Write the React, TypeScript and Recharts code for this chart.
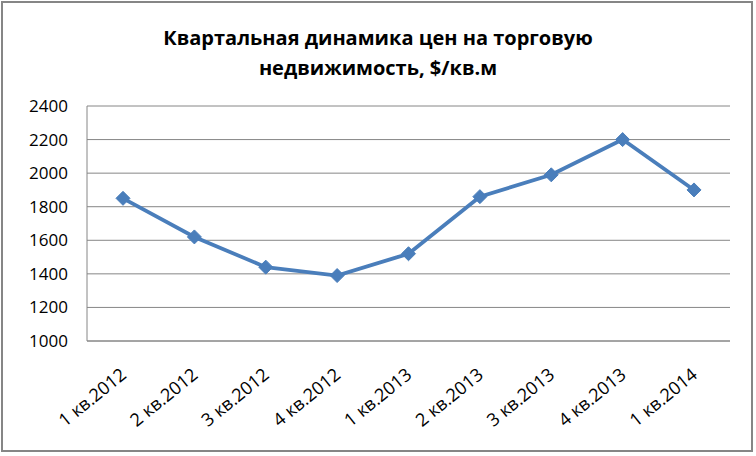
import React from "react"
import { LineChart, Line, XAxis, YAxis, CartesianGrid } from "recharts"

const quarters = [
  "1 кв.2012", "2 кв.2012", "3 кв.2012", "4 кв.2012",
  "1 кв.2013", "2 кв.2013", "3 кв.2013", "4 кв.2013", "1 кв.2014",
]
const prices = [1850, 1620, 1440, 1390, 1520, 1860, 1990, 2200, 1900]
const yTicks = [1000, 1200, 1400, 1600, 1800, 2000, 2200, 2400]
const titleLines = ["Квартальная динамика цен на торговую", "недвижимость, $/кв.м"]

const data = quarters.map((q, i) => ({ quarter: q, price: prices[i] }))

const FONT = "'Open Sans', 'Liberation Sans', sans-serif"
const GRID = "#868686"
const BLUE = "#4a7ebb"

const Diamond = (props: any) => {
  const { cx, cy } = props
  if (cx == null || cy == null) return null
  const r = 7
  return (
    <path
      d={`M${cx},${cy - r}L${cx + r},${cy}L${cx},${cy + r}L${cx - r},${cy}Z`}
      fill={BLUE}
      stroke={BLUE}
      strokeWidth={1}
    />
  )
}

// rotated category label, top-right corner hooked just below the tick
const XTick = (props: any) => {
  const { x, payload } = props
  const ax = x - 5
  const ay = 365
  return (
    <text
      x={ax}
      y={ay}
      transform={`rotate(-39 ${ax} ${ay})`}
      textAnchor="end"
      dominantBaseline="hanging"
      fontFamily={FONT}
      fontSize={18}
      fill="#000"
    >
      {payload.value}
    </text>
  )
}

export default function App() {
  return (
    <div style={{ position: "absolute", left: 0, top: 0, width: 756, height: 456, background: "#fff" }}>
      <div
        style={{
          position: "absolute",
          left: 1,
          top: 1,
          width: 752,
          height: 451,
          boxSizing: "border-box",
          border: `2px solid ${GRID}`,
        }}
      />
      <div
        style={{
          position: "absolute",
          left: 0,
          top: 23,
          width: 756,
          textAlign: "center",
          fontFamily: FONT,
          fontWeight: 700,
          fontSize: 20,
          lineHeight: "30px",
          color: "#000",
        }}
      >
        {titleLines.map((t) => (
          <div key={t}>{t}</div>
        ))}
      </div>
      <LineChart
        width={756}
        height={456}
        data={data}
        margin={{ top: 106, right: 26, bottom: 0, left: 0 }}
        style={{ position: "absolute", left: 0, top: 0 }}
      >
        <CartesianGrid vertical={false} stroke={GRID} strokeWidth={1} />
        <XAxis
          dataKey="quarter"
          interval={0}
          height={115}
          padding={{ left: 36, right: 36 }}
          stroke={GRID}
          tickLine={false}
          tick={<XTick />}
        />
        <YAxis
          width={87}
          domain={[1000, 2400]}
          ticks={yTicks}
          interval={0}
          stroke={GRID}
          tickLine={false}
          tickMargin={13}
          tick={{ fontFamily: FONT, fontSize: 17, fill: "#000" }}
        />
        <Line
          type="linear"
          dataKey="price"
          stroke={BLUE}
          strokeWidth={3.8}
          dot={<Diamond />}
          isAnimationActive={false}
        />
      </LineChart>
    </div>
  )
}
